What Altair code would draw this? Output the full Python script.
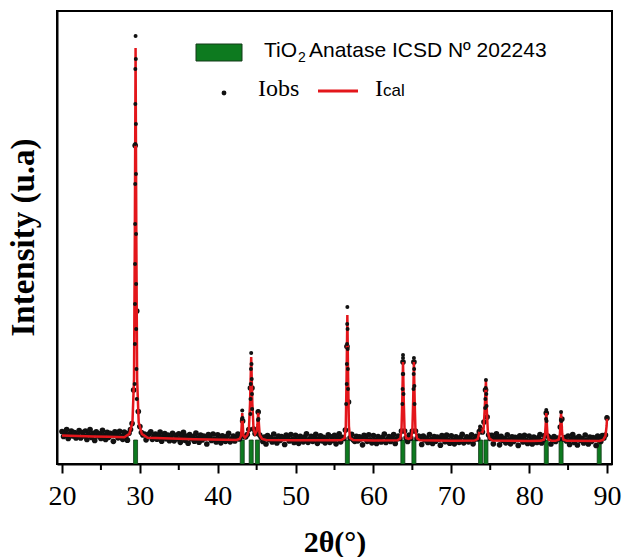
import altair as alt
import pandas as pd

# ---------------- data ----------------
# observed intensities on the 0.2 degree measurement grid, 20.0 ... 90.0
grid_start = 20.0
grid_step = 0.2
obs_grid_y = [
    325, 275, 310, 345, 255, 300, 330, 280, 315, 260,
    290, 335, 260, 315, 280, 330, 245, 300, 345, 265,
    306, 236, 321, 281, 301, 256, 336, 286, 246, 316,
    267, 307, 287, 227, 322, 292, 262, 327, 277, 247,
    318, 273, 238, 308, 345, 404, 740, 3185, 1529, 525,
    375, 315, 290, 300, 242, 277, 302, 322, 247, 277,
    298, 248, 283, 318, 228, 273, 303, 253, 288, 233,
    262, 307, 232, 287, 252, 302, 217, 272, 317, 237,
    278, 208, 293, 253, 273, 228, 308, 258, 218, 288,
    240, 280, 260, 200, 295, 265, 235, 300, 250, 220,
    292, 247, 212, 282, 262, 227, 277, 307, 222, 252,
    280, 230, 265, 300, 250, 290, 430, 275, 272, 295,
    345, 760, 760, 350, 305, 335, 520, 290, 265, 225,
    270, 200, 285, 245, 265, 220, 300, 250, 210, 280,
    235, 275, 255, 195, 290, 260, 230, 295, 245, 215,
    287, 242, 207, 277, 257, 222, 272, 302, 217, 247,
    277, 227, 262, 297, 207, 252, 282, 232, 267, 212,
    247, 292, 217, 272, 237, 287, 202, 257, 302, 222,
    267, 255, 340, 1175, 620, 262, 297, 242, 227, 277,
    232, 272, 252, 192, 287, 257, 227, 292, 242, 212,
    285, 240, 205, 275, 255, 220, 270, 300, 215, 245,
    275, 225, 260, 295, 205, 250, 280, 255, 330, 1020,
    330, 262, 225, 290, 258, 330, 1020, 330, 255, 280,
    265, 195, 280, 240, 260, 215, 295, 245, 205, 275,
    228, 268, 248, 188, 283, 253, 223, 288, 238, 208,
    282, 237, 202, 272, 252, 217, 267, 297, 212, 242,
    272, 222, 257, 292, 202, 247, 277, 252, 323, 343,
    320, 420, 740, 470, 290, 255, 287, 202, 257, 302,
    262, 192, 277, 237, 257, 212, 292, 242, 202, 272,
    226, 266, 246, 186, 281, 251, 221, 286, 236, 206,
    280, 235, 200, 270, 250, 215, 265, 295, 210, 240,
    285, 510, 280, 265, 200, 245, 275, 225, 260, 250,
    370, 450, 250, 265, 230, 280, 195, 250, 295, 215,
    260, 190, 275, 235, 255, 210, 290, 240, 200, 270,
    225, 265, 245, 185, 280, 250, 225, 285, 260, 290,
    460,
]

# extra observed points on the peak flanks and tops
peak_obs_x = [
    29.45, 29.42, 29.42, 29.41, 29.40, 29.39, 29.38, 29.37, 29.36, 29.33,
    29.48, 29.49, 29.50, 29.51, 29.52, 29.53, 29.56, 29.60,
    44.30, 44.27, 44.24, 44.22, 44.34, 44.37, 44.40, 44.20, 44.42,
    43.15, 43.12, 43.18, 45.20, 45.17, 45.23,
    56.65, 56.63, 56.61, 56.59, 56.57, 56.68, 56.70, 56.72, 56.74, 56.50,
    63.80, 63.80, 63.77, 63.75, 63.72, 63.83, 63.86,
    65.20, 65.17, 65.15, 65.23, 65.26, 65.28,
    74.45, 74.42, 74.38, 74.35, 74.50, 74.53, 73.70, 73.65,
    82.20, 82.17, 82.24, 84.10, 84.07, 84.14, 89.98,
]
peak_obs_y = [
    4280, 3950, 3600, 3200, 2800, 2400, 2000, 1600, 1200, 800,
    4050, 3400, 2900, 2300, 1800, 1350, 950, 650,
    1110, 950, 800, 650, 1000, 850, 700, 500, 550,
    535, 450, 460, 530, 440, 450,
    1570, 1400, 1200, 1000, 800, 1350, 1150, 950, 750, 600,
    1090, 1060, 900, 750, 600, 900, 700,
    1060, 900, 750, 950, 780, 600,
    840, 760, 650, 560, 700, 580, 375, 340,
    540, 450, 430, 520, 440, 430, 470,
]

# calculated (Rietveld) profile
cal_x = [
    20.0, 22.0, 24.0, 26.0, 28.0, 28.65, 29.05, 29.25, 29.35, 29.45, 29.55, 29.65, 29.85, 30.25,
    31.0, 33.0, 35.0, 37.0, 39.0, 41.0, 42.4, 42.8, 43.0, 43.07, 43.15, 43.23, 43.3, 43.5,
    43.8, 44.0, 44.15, 44.3, 44.45, 44.6, 44.8, 45.0, 45.1, 45.2, 45.3, 45.4, 45.7, 46.2,
    50.0, 55.0, 55.9, 56.3, 56.45, 56.55, 56.65, 56.75, 56.85, 57.0, 57.4, 60.0,
    63.1, 63.45, 63.6, 63.7, 63.8, 63.9, 64.0, 64.2, 64.5, 64.85, 65.0, 65.1, 65.2, 65.3,
    65.4, 65.6, 65.95, 70.0, 73.0, 73.4, 73.55, 73.7, 73.85, 74.0, 74.15, 74.3, 74.45,
    74.55, 74.7, 74.9, 75.3, 80.0, 81.5, 81.9, 82.05, 82.12, 82.2, 82.28, 82.35, 82.5,
    82.9, 83.4, 83.8, 83.95, 84.02, 84.1, 84.18, 84.25, 84.4, 84.8, 89.0, 89.5, 89.8,
    89.95, 90.0,
]
cal_y = [
    285, 280, 276, 272, 268, 301, 418, 847, 2211, 4160, 2211, 847, 418, 301,
    262, 258, 252, 248, 245, 242, 241, 250, 280, 375, 510, 375, 285, 265,
    290, 340, 600, 1070, 600, 350, 300, 330, 390, 520, 390, 290, 250, 240,
    238, 237, 240, 260, 380, 860, 1490, 860, 380, 260, 240, 236,
    238, 255, 330, 620, 1020, 620, 330, 260, 250, 260, 330, 620, 1020, 620,
    330, 255, 238, 233, 234, 250, 300, 370, 330, 320, 350, 560, 830,
    560, 320, 255, 235, 231, 232, 245, 300, 390, 510, 390, 300, 245,
    232, 232, 245, 300, 390, 510, 390, 300, 245, 232, 231, 240, 280,
    380, 460,
]

# TiO2 anatase reference reflections (ICSD 202243)
ref_pos = [29.45, 43.15, 44.3, 45.1, 56.65, 63.78, 65.2, 73.76, 74.45, 82.2, 84.1, 89.0]
ref_marker = 240

major_ticks = [20, 30, 40, 50, 60, 70, 80, 90]
minor_ticks = [25, 35, 45, 55, 65, 75, 85]

# ---------------- tables ----------------
obs_x = [round(grid_start + i * grid_step, 2) for i in range(len(obs_grid_y))]
df_obs = pd.DataFrame({"x": obs_x, "y": obs_grid_y})
df_pk = pd.DataFrame({"x": peak_obs_x, "y": peak_obs_y})
df_cal = pd.DataFrame({"x": cal_x, "y": cal_y})
df_ref = pd.DataFrame({"x": ref_pos, "y": [ref_marker] * len(ref_pos)})
df_minor = pd.DataFrame({"x": minor_ticks})
df_one = pd.DataFrame({"k": [0]})

SERIF = "Liberation Serif"
SANS = "Liberation Sans"
GREEN = "#0d7a1f"
RED = "#e3161b"

x_scale = alt.Scale(domain=[20, 90], nice=False, zero=False)
y_scale = alt.Scale(domain=[0, 4530], nice=False, zero=True)

x_axis = alt.Axis(
    values=major_ticks, format="d", grid=False,
    domainColor="black", domainWidth=2,
    tickColor="black", tickWidth=2, tickSize=9,
    labelFont=SERIF, labelFontSize=28, labelColor="black", labelPadding=9,
    labelFlush=False,
    title="2θ(°)", titleFont=SERIF, titleFontSize=30, titleFontWeight="bold",
    titleColor="black", titleBaseline="alphabetic", titleY=87,
)
y_axis = alt.Axis(
    labels=False, ticks=False, grid=False,
    domainColor="black", domainWidth=2,
    title="Intensity (u.a)", titleFont=SERIF, titleFontSize=33,
    titleFontWeight="bold", titleColor="black",
    titleAngle=270, titleBaseline="alphabetic", titleAlign="center",
    titleX=-24, titleY=226,
)

bars = alt.Chart(df_ref).mark_bar(
    size=4, color=GREEN, stroke="#123a18", strokeWidth=0.8, clip=True
).encode(
    x=alt.X("x:Q", scale=x_scale, axis=x_axis),
    y=alt.Y("y:Q", scale=y_scale, axis=y_axis),
)

obs = alt.Chart(df_obs).mark_circle(size=32, color="#111111", opacity=1, clip=True).encode(
    x="x:Q", y="y:Q"
)

cal = alt.Chart(df_cal).mark_line(color=RED, strokeWidth=2.5, clip=True).encode(
    x="x:Q", y="y:Q"
)

pk = alt.Chart(df_pk).mark_circle(size=16, color="#111111", opacity=1, clip=True).encode(
    x="x:Q", y="y:Q"
)

minor = alt.Chart(df_minor).mark_rule(color="black", strokeWidth=2, clip=False).encode(
    x="x:Q", y=alt.value(453), y2=alt.value(459)
)

# ---------------- legend ----------------
leg_rect = alt.Chart(df_one).mark_rect(color=GREEN, stroke="#123a18", strokeWidth=1).encode(
    x=alt.value(139), x2=alt.value(185), y=alt.value(33), y2=alt.value(50)
)
leg_t1 = alt.Chart(df_one).mark_text(
    text="TiO", font=SANS, fontSize=21, align="left", baseline="alphabetic", color="black"
).encode(x=alt.value(207), y=alt.value(46))
leg_t2 = alt.Chart(df_one).mark_text(
    text="2", font=SANS, fontSize=14, align="left", baseline="alphabetic", color="black"
).encode(x=alt.value(241), y=alt.value(51))
leg_t3 = alt.Chart(df_one).mark_text(
    text="Anatase ICSD Nº 202243", font=SANS, fontSize=21, align="left",
    baseline="alphabetic", color="black"
).encode(x=alt.value(252), y=alt.value(46))
leg_dot = alt.Chart(df_one).mark_circle(size=24, color="#111111", opacity=1).encode(
    x=alt.value(167), y=alt.value(82)
)
leg_obs = alt.Chart(df_one).mark_text(
    text="Iobs", font=SERIF, fontSize=24, align="left", baseline="alphabetic", color="black"
).encode(x=alt.value(201), y=alt.value(85))
leg_line = alt.Chart(df_one).mark_rule(color=RED, strokeWidth=3).encode(
    x=alt.value(261), x2=alt.value(301), y=alt.value(80)
)
leg_I = alt.Chart(df_one).mark_text(
    text="I", font=SERIF, fontSize=24, align="left", baseline="alphabetic", color="black"
).encode(x=alt.value(318), y=alt.value(85))
leg_cal = alt.Chart(df_one).mark_text(
    text="cal", font=SANS, fontSize=17, align="left", baseline="alphabetic", color="black"
).encode(x=alt.value(326), y=alt.value(85))

chart = alt.layer(
    bars, obs, cal, pk, minor,
    leg_rect, leg_t1, leg_t2, leg_t3, leg_dot, leg_obs, leg_line, leg_I, leg_cal,
).properties(
    width=555, height=453,
    padding={"left": 57, "top": 11, "right": 21, "bottom": 93},
    autosize=alt.AutoSizeParams(type="none"),
    background="white",
).configure_view(stroke="black", strokeWidth=2)

chart.save("out.html", embed_options={"renderer": "svg", "actions": False})
